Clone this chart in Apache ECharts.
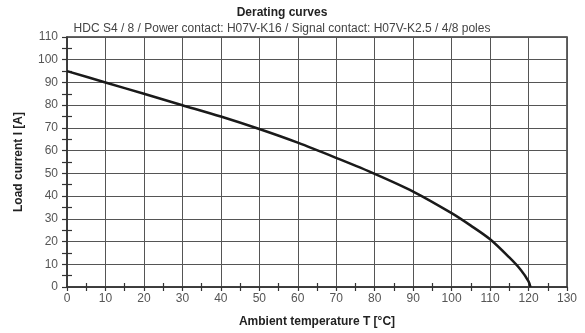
<!DOCTYPE html>
<html>
<head>
<meta charset="utf-8">
<script src="https://cdn.jsdelivr.net/npm/echarts@6/dist/echarts.min.js"></script>
<style>
  html, body { margin: 0; padding: 0; background: #fff; }
  #chart { width: 585px; height: 333px; }
</style>
</head>
<body>
<div id="chart"></div>
<script>
// Derating curve: ambient temperature (°C) vs. permissible load current (A)
const temperatures = [0, 10, 20, 30, 40, 50, 60, 70, 80, 90, 100, 105, 110, 115, 118, 120, 120.5];
const loadCurrent  = [95, 90, 85, 80, 75, 69.5, 63.5, 56.8, 49.8, 42, 32.5, 27, 21, 13, 7.5, 2.5, 0];

const titleText = 'Derating curves';
const subtitleText = 'HDC S4 / 8 / Power contact: H07V-K16 / Signal contact: H07V-K2.5 / 4/8 poles';
const xName = 'Ambient temperature T [°C]';
const yName = 'Load current I [A]';

const FONT = '"Liberation Sans", Arial, sans-serif';
const AXIS_COLOR = '#333';
const GRID_COLOR = '#555';
const LABEL_COLOR = '#555';

const chart = echarts.init(document.getElementById('chart'));

const gridBox = { left: 67, right: 18, top: 37, bottom: 46 };

// shared style for the tick marks
const tickLine = { color: AXIS_COLOR, width: 1.2 };

chart.setOption({
  animation: false,
  backgroundColor: '#fff',
  title: [
    {
      text: titleText,
      left: 277, top: 2, textAlign: 'center',
      textStyle: { fontFamily: FONT, fontSize: 12, fontWeight: 'bold', color: '#222' }
    },
    {
      text: subtitleText,
      left: 277, top: 18, textAlign: 'center',
      textStyle: { fontFamily: FONT, fontSize: 12, fontWeight: 'normal', color: '#444' }
    }
  ],
  grid: Object.assign({ containLabel: false, show: true, borderColor: AXIS_COLOR, borderWidth: 1.5 }, gridBox),
  xAxis: [
    {
      type: 'value', min: 0, max: 130, interval: 10,
      name: xName, nameLocation: 'middle', nameGap: 29,
      nameTextStyle: { fontFamily: FONT, fontSize: 12, fontWeight: 'bold', color: '#222' },
      axisLine: { show: true, lineStyle: { color: AXIS_COLOR, width: 1.5 } },
      axisTick: { show: true, inside: false, length: 4, lineStyle: tickLine },
      minorTick: { show: true, splitNumber: 2, length: 4, lineStyle: tickLine },
      axisLabel: { fontFamily: FONT, fontSize: 12, color: LABEL_COLOR, margin: 6 },
      splitLine: { show: true, lineStyle: { color: GRID_COLOR, width: 1 } }
    },
    {
      // inward half of the minor ticks on the temperature axis
      type: 'value', min: 0, max: 130, interval: 10, position: 'bottom',
      axisLine: { show: false },
      axisTick: { show: true, inside: true, length: 0, lineStyle: { width: 0, opacity: 0 } },
      minorTick: { show: true, splitNumber: 2, length: 4, lineStyle: tickLine },
      axisLabel: { show: false },
      splitLine: { show: false }
    }
  ],
  yAxis: [
    {
      type: 'value', min: 0, max: 110, interval: 10,
      name: yName, nameLocation: 'middle', nameGap: 42, nameRotate: 90,
      nameTextStyle: { fontFamily: FONT, fontSize: 12, fontWeight: 'bold', color: '#222' },
      axisLine: { show: true, lineStyle: { color: AXIS_COLOR, width: 1.5 } },
      axisTick: { show: true, inside: false, length: 5, lineStyle: tickLine },
      minorTick: { show: true, splitNumber: 2, length: 5, lineStyle: tickLine },
      axisLabel: { fontFamily: FONT, fontSize: 12, color: LABEL_COLOR, margin: 9 },
      splitLine: { show: true, lineStyle: { color: GRID_COLOR, width: 1 } }
    },
    {
      // inward half of the minor ticks on the current axis
      type: 'value', min: 0, max: 110, interval: 10, position: 'left',
      axisLine: { show: false },
      axisTick: { show: true, inside: true, length: 0, lineStyle: { width: 0, opacity: 0 } },
      minorTick: { show: true, splitNumber: 2, length: 5, lineStyle: tickLine },
      axisLabel: { show: false },
      splitLine: { show: false }
    }
  ],
  series: [
    {
      type: 'line',
      xAxisIndex: 0, yAxisIndex: 0,
      data: temperatures.map((t, i) => [t, loadCurrent[i]]),
      smooth: 0.3,
      showSymbol: false,
      lineStyle: { color: '#1a1a1a', width: 2.5 },
      z: 5
    }
  ]
});
</script>
</body>
</html>
